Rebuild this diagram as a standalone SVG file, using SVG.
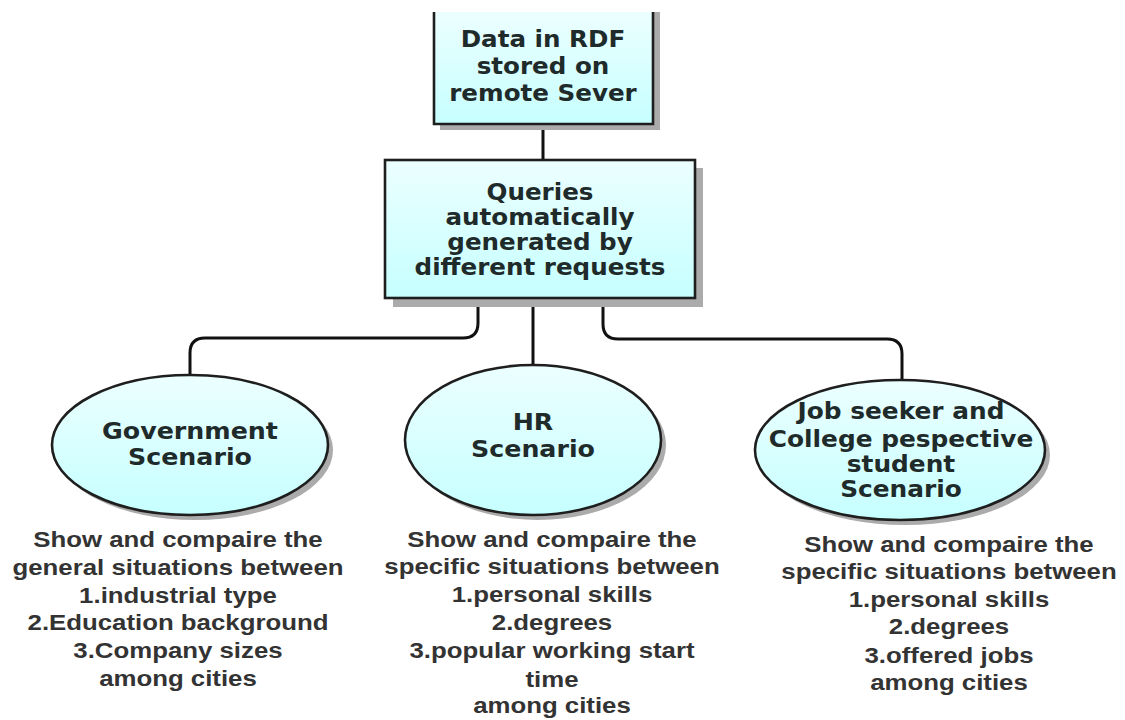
<svg xmlns="http://www.w3.org/2000/svg" width="1125" height="720" viewBox="0 0 1125 720">
<defs>
<linearGradient id="fillg" x1="0" y1="0" x2="0" y2="1">
<stop offset="0" stop-color="#ecffff"/>
<stop offset="1" stop-color="#c6ffff"/>
</linearGradient>
</defs>
<style>
.shape{fill:url(#fillg);stroke:#1e1e1e;stroke-width:2.6}
.shadow{fill:#ababab}
.nt{font-family:"DejaVu Sans",Verdana,sans-serif;font-weight:bold;font-size:23px;fill:#1f2a2a;text-anchor:middle}
.bt{font-family:"Liberation Sans",Arial,sans-serif;font-weight:bold;font-size:21.5px;fill:#333333;text-anchor:middle}
.con{fill:none;stroke:#111;stroke-width:3}
</style>
<rect width="1125" height="720" fill="#ffffff"/>
<g id="connectors">
<path class="con" d="M543,124 V160"/>
<path class="con" d="M478,298 V323 Q478,338 463,338 H205 Q190,338 190,353 V376"/>
<path class="con" d="M533,298 V366"/>
<path class="con" d="M603,298 V324 Q603,339 618,339 H887 Q902,339 902,354 V381"/>
</g>
<g id="node-data">
<rect class="shadow" x="440" y="12" width="220" height="118"/>
<rect x="434" y="12" width="219" height="112" fill="url(#fillg)"/>
<path d="M434,12 V124 H653 V12" fill="none" stroke="#1e1e1e" stroke-width="2.6"/>
<g transform="translate(543 0) scale(1.07 1) translate(-543 0)">
<text class="nt" x="543" y="47">Data in RDF</text>
<text class="nt" x="543" y="74">stored on</text>
<text class="nt" x="543" y="101">remote Sever</text>
</g>
</g>
<g id="node-queries">
<rect class="shadow" x="393" y="168" width="310" height="139"/>
<rect class="shape" x="385" y="160" width="310" height="138"/>
<g transform="translate(540 0) scale(1.07 1) translate(-540 0)">
<text class="nt" x="540" y="200">Queries</text>
<text class="nt" x="540" y="225">automatically</text>
<text class="nt" x="540" y="250">generated by</text>
<text class="nt" x="540" y="275">different requests</text>
</g>
</g>
<g id="node-gov">
<ellipse class="shadow" cx="195" cy="450" rx="138" ry="70"/>
<ellipse class="shape" cx="190" cy="445" rx="138" ry="70"/>
<g transform="translate(190 0) scale(1.1 1) translate(-190 0)">
<text class="nt" x="190" y="439">Government</text>
<text class="nt" x="190" y="465">Scenario</text>
</g>
</g>
<g id="node-hr">
<ellipse class="shadow" cx="538" cy="445" rx="128" ry="75"/>
<ellipse class="shape" cx="533" cy="440" rx="128" ry="75"/>
<g transform="translate(533 0) scale(1.1 1) translate(-533 0)">
<text class="nt" x="533" y="430">HR</text>
<text class="nt" x="533" y="457">Scenario</text>
</g>
</g>
<g id="node-job">
<ellipse class="shadow" cx="905" cy="455" rx="145" ry="70"/>
<ellipse class="shape" cx="900" cy="450" rx="145" ry="70"/>
<g transform="translate(901 0) scale(1.08 1) translate(-901 0)">
<text class="nt" x="901" y="419">Job seeker and</text>
<text class="nt" x="901" y="447">College pespective</text>
<text class="nt" x="901" y="472">student</text>
<text class="nt" x="901" y="497">Scenario</text>
</g>
</g>
<g id="desc-gov" transform="translate(178 0) scale(1.2 1) translate(-178 0)">
<text class="bt" x="178" y="547">Show and compaire the</text>
<text class="bt" x="178" y="575">general situations between</text>
<text class="bt" x="178" y="603">1.industrial type</text>
<text class="bt" x="178" y="630">2.Education background</text>
<text class="bt" x="178" y="658">3.Company sizes</text>
<text class="bt" x="178" y="686">among cities</text>
</g>
<g id="desc-hr" transform="translate(552 0) scale(1.2 1) translate(-552 0)">
<text class="bt" x="552" y="547">Show and compaire the</text>
<text class="bt" x="552" y="574">specific situations between</text>
<text class="bt" x="552" y="602">1.personal skills</text>
<text class="bt" x="552" y="630">2.degrees</text>
<text class="bt" x="552" y="658">3.popular working start</text>
<text class="bt" x="552" y="687">time</text>
<text class="bt" x="552" y="713">among cities</text>
</g>
<g id="desc-job" transform="translate(949 0) scale(1.2 1) translate(-949 0)">
<text class="bt" x="949" y="552">Show and compaire the</text>
<text class="bt" x="949" y="579">specific situations between</text>
<text class="bt" x="949" y="607">1.personal skills</text>
<text class="bt" x="949" y="634">2.degrees</text>
<text class="bt" x="949" y="663">3.offered jobs</text>
<text class="bt" x="949" y="690">among cities</text>
</g>
</svg>
